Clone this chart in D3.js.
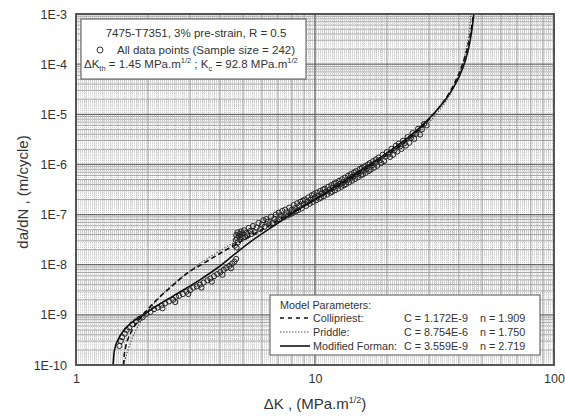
<!DOCTYPE html>
<html>
<head>
<meta charset="utf-8">
<script src="https://cdn.jsdelivr.net/npm/d3@7"></script>
<style>
  html, body { margin: 0; padding: 0; background: #fff; }
  svg { display: block; font-family: "Liberation Sans", Arial, sans-serif; }
</style>
</head>
<body>
<svg id="chart" width="565" height="417"></svg>
<script>
// ---- axis ticks ----
const xTickValues = [1, 10, 100];
const xTickLabels = ["1", "10", "100"];
const yTickValues = [1e-10, 1e-9, 1e-8, 1e-7, 1e-6, 1e-5, 1e-4, 1e-3];
const yTickLabels = ["1E-10", "1E-9", "1E-8", "1E-7", "1E-6", "1E-5", "1E-4", "1E-3"];

// ---- model curves: [ΔK (MPa·m^1/2), da/dN (m/cycle)] ----
const collipriest = [
  [1.58, 1.0e-10], [1.59, 1.5e-10], [1.61, 2.2e-10], [1.65, 3.3e-10], [1.71, 4.8e-10],
  [1.79, 6.8e-10], [1.88, 9.2e-10], [2.0, 1.3e-9], [2.2, 2.1e-9], [2.5, 3.6e-9],
  [2.9, 6.6e-9], [3.4, 1.05e-8], [4.1, 1.8e-8], [4.7, 2.6e-8], [5.6, 4.2e-8],
  [6.8, 7.0e-8], [8.2, 1.17e-7], [10, 2.0e-7], [12.5, 3.7e-7], [15, 6.3e-7],
  [18, 1.1e-6], [21, 1.8e-6], [25, 3.4e-6], [29, 6.6e-6], [33, 1.35e-5],
  [37, 3.0e-5], [40, 6.5e-5], [42.5, 1.45e-4], [44.3, 3.2e-4], [45.4, 6.2e-4], [46.0, 1.0e-3]
];
const priddle = [
  [1.585, 1.0e-10], [1.6, 1.2e-10], [1.7, 3.0e-10], [1.85, 6.8e-10], [2.0, 1.2e-9],
  [2.25, 2.3e-9], [2.5, 3.8e-9], [3.0, 7.6e-9], [3.5, 1.27e-8], [4.0, 1.9e-8],
  [5.0, 3.5e-8], [6.0, 5.7e-8], [8.0, 1.18e-7], [10, 2.06e-7], [13, 4.06e-7],
  [16, 7.17e-7], [20, 1.4e-6], [25, 3.08e-6], [30, 6.87e-6], [35, 1.72e-5],
  [38, 3.4e-5], [40, 6.0e-5], [42, 1.27e-4], [43, 2.08e-4], [44, 4.0e-4],
  [44.5, 6.1e-4], [44.95, 1.0e-3]
];
const modifiedForman = [
  [1.43, 1.0e-10], [1.44, 1.6e-10], [1.46, 2.3e-10], [1.5, 3.2e-10], [1.57, 4.6e-10],
  [1.66, 6.2e-10], [1.78, 8.0e-10], [1.92, 1.0e-9], [2.1, 1.35e-9], [2.4, 2.0e-9],
  [2.8, 3.1e-9], [3.3, 5.0e-9], [3.9, 8.6e-9], [4.7, 1.75e-8], [5.6, 3.3e-8],
  [6.8, 6.2e-8], [8.2, 1.12e-7], [10, 2.0e-7], [12.5, 3.9e-7], [15, 6.8e-7],
  [18, 1.2e-6], [21, 2.0e-6], [25, 3.7e-6], [29, 7.0e-6], [33, 1.35e-5],
  [37, 2.8e-5], [40, 5.5e-5], [42.5, 1.15e-4], [44.3, 2.5e-4], [45.5, 5.5e-4], [46.2, 1.0e-3]
];

// ---- measured crack growth data: [ΔK, da/dN] ----
const dataPoints = [
  [1.52, 2.4e-10], [1.54, 3.0e-10], [1.56, 3.6e-10], [1.6, 4.2e-10], [1.63, 5.0e-10],
  [1.67, 5.6e-10], [1.72, 6.5e-10], [1.78, 7.4e-10], [1.84, 8.3e-10], [1.9, 9.0e-10],
  [1.97, 1.05e-9], [2.05, 1.15e-9], [2.12, 1.3e-9], [2.2, 1.4e-9], [2.28, 1.55e-9],
  [2.36, 1.7e-9], [2.45, 1.85e-9], [2.55, 2.0e-9], [2.62, 2.3e-9], [2.7, 2.4e-9],
  [2.8, 2.6e-9], [2.9, 2.9e-9], [3.0, 3.1e-9], [3.1, 3.5e-9], [3.2, 3.7e-9],
  [3.3, 4.0e-9], [3.42, 4.4e-9], [3.55, 4.9e-9], [3.65, 5.3e-9], [3.78, 5.9e-9],
  [3.9, 6.5e-9], [4.02, 7.1e-9], [4.15, 7.9e-9], [4.25, 8.6e-9], [4.38, 9.5e-9],
  [4.5, 1.05e-8], [4.6, 1.15e-8], [4.68, 1.3e-8],
  [2.3, 1.35e-9], [2.6, 1.8e-9], [2.95, 2.6e-9], [3.35, 3.5e-9], [3.7, 4.6e-9],
  [4.1, 6.3e-9], [4.45, 8.5e-9],
  [4.62, 2.4e-8], [4.66, 3.1e-8], [4.68, 3.9e-8], [4.7, 2.2e-8], [4.72, 3.4e-8],
  [4.74, 4.4e-8], [4.76, 2.8e-8], [4.8, 3.7e-8], [4.83, 4.1e-8], [4.86, 3.2e-8],
  [4.9, 4.6e-8], [4.93, 3.6e-8], [4.97, 4.2e-8], [5.0, 3.5e-8],
  [5.05, 4.85e-8], [5.1, 3.55e-8], [5.16, 4.3e-8], [5.22, 3.8e-8], [5.28, 5.4e-8],
  [5.35, 4.7e-8], [5.42, 4.1e-8], [5.5, 5.9e-8], [5.6, 4.45e-8], [5.7, 5.5e-8],
  [5.8, 6.8e-8], [5.9, 5.1e-8],
  [6.0, 6.3e-8], [6.08, 7.7e-8], [6.15, 5.7e-8], [6.25, 8.1e-8], [6.35, 7.2e-8],
  [6.45, 6.3e-8], [6.55, 9.1e-8], [6.65, 6.8e-8], [6.75, 8.2e-8], [6.85, 1.0e-7], [6.95, 7.5e-8],
  [7.05, 1.09e-7], [7.12, 8.0e-8], [7.2, 9.7e-8], [7.3, 1.18e-7], [7.4, 8.8e-8],
  [7.5, 1.25e-7], [7.6, 1.1e-7], [7.7, 9.6e-8], [7.8, 1.38e-7], [7.9, 1.03e-7], [7.98, 1.24e-7],
  [8.06, 1.08e-7], [8.15, 1.55e-7], [8.24, 1.34e-7], [8.33, 1.17e-7], [8.42, 1.68e-7],
  [8.5, 1.23e-7], [8.6, 1.49e-7], [8.7, 1.8e-7], [8.8, 1.33e-7], [8.9, 1.9e-7], [8.98, 1.64e-7],
  [9.08, 2.0e-7], [9.18, 1.49e-7], [9.28, 1.81e-7], [9.38, 2.2e-7], [9.5, 1.64e-7],
  [9.6, 1.99e-7], [9.7, 2.42e-7], [9.8, 1.79e-7], [9.9, 2.55e-7], [9.98, 2.2e-7],
  [10.1, 1.92e-7], [10.2, 2.74e-7], [10.3, 2.37e-7], [10.4, 2.07e-7], [10.5, 2.94e-7],
  [10.6, 2.17e-7], [10.7, 2.62e-7], [10.8, 3.16e-7], [10.9, 2.33e-7], [11.0, 3.3e-7],
  [11.1, 2.86e-7], [11.25, 2.52e-7], [11.35, 3.58e-7], [11.5, 3.13e-7], [11.6, 2.72e-7],
  [11.7, 3.86e-7], [11.8, 2.85e-7], [11.9, 3.42e-7], [12.0, 4.13e-7],
  [12.12, 3.05e-7], [12.25, 4.34e-7], [12.38, 3.78e-7], [12.5, 3.3e-7], [12.62, 4.7e-7],
  [12.75, 4.08e-7], [12.88, 3.56e-7], [12.98, 5.05e-7],
  [13.1, 4.39e-7], [13.22, 3.83e-7], [13.35, 5.46e-7], [13.5, 4.06e-7], [13.62, 4.9e-7],
  [13.75, 5.94e-7], [13.88, 4.39e-7], [13.98, 5.28e-7],
  [14.12, 6.4e-7], [14.28, 4.73e-7], [14.42, 5.72e-7], [14.56, 6.93e-7], [14.7, 5.13e-7],
  [14.84, 7.29e-7], [14.98, 6.38e-7],
  [15.12, 5.57e-7], [15.28, 6.73e-7], [15.42, 8.14e-7], [15.58, 6.02e-7], [15.72, 8.56e-7],
  [15.86, 6.32e-7], [15.98, 7.58e-7],
  [16.15, 9.2e-7], [16.3, 6.8e-7], [16.48, 8.25e-7], [16.65, 1.0e-6], [16.8, 7.4e-7], [16.96, 1.06e-6],
  [17.12, 7.9e-7], [17.3, 9.55e-7], [17.48, 1.16e-6], [17.65, 8.6e-7], [17.82, 1.045e-6], [17.98, 1.26e-6],
  [18.2, 9.4e-7], [18.45, 1.37e-6], [18.7, 1.21e-6], [18.95, 1.07e-6], [19.2, 1.56e-6],
  [19.45, 1.17e-6], [19.7, 1.43e-6], [19.95, 1.76e-6],
  [20.3, 1.58e-6], [20.6, 1.41e-6], [20.9, 2.05e-6], [21.2, 1.55e-6], [21.5, 1.91e-6],
  [21.8, 2.36e-6], [22.1, 1.81e-6],
  [22.4, 2.6e-6], [22.7, 2.3e-6], [23.0, 2.04e-6], [23.35, 2.97e-6], [23.7, 2.65e-6], [24.0, 2.38e-6],
  [24.4, 3.52e-6], [24.8, 2.7e-6], [25.2, 3.37e-6], [25.6, 4.22e-6], [26.0, 3.23e-6],
  [26.5, 4.07e-6], [27.0, 5.13e-6], [27.5, 3.95e-6], [28.0, 5.0e-6], [28.6, 6.4e-6], [29.3, 6.0e-6]
];

// ---- legend text ----
const modelNames = ["Collipriest:", "Priddle:", "Modified Forman:"];
const modelC = ["C = 1.172E-9", "C = 8.754E-6", "C = 3.559E-9"];
const modelN = ["n = 1.909", "n = 1.750", "n = 2.719"];

// ---- layout ----
const W = 565, H = 417;
const P = { left: 76, right: 554, top: 14, bottom: 365 };
const svg = d3.select("#chart");
const x = d3.scaleLog().domain([1, 100]).range([P.left, P.right]);
const y = d3.scaleLog().domain([1e-10, 1e-3]).range([P.bottom, P.top]);

svg.append("rect").attr("width", W).attr("height", H).attr("fill", "#fff");

svg.append("defs").append("clipPath").attr("id", "plotClip")
  .append("rect").attr("x", P.left).attr("y", P.top)
  .attr("width", P.right - P.left).attr("height", P.bottom - P.top);

// ---- log-paper grid ----
const fineMult = [1.1, 1.2, 1.3, 1.4, 1.5, 1.6, 1.7, 1.8, 1.9,
  2.2, 2.4, 2.6, 2.8, 3.2, 3.4, 3.6, 3.8, 4.2, 4.4, 4.6, 4.8,
  5.5, 6.5, 7.5, 8.5, 9.5];
const minorMult = [2, 3, 4, 5, 6, 7, 8, 9];
function gridValues(e0, e1, mults) {
  const out = [];
  for (let e = e0; e < e1; e++) mults.forEach(m => out.push(m * Math.pow(10, e)));
  return out;
}
const grid = svg.append("g");
function vLines(vals, stroke, w, dash) {
  grid.append("g").selectAll("line").data(vals).join("line")
    .attr("x1", d => x(d)).attr("x2", d => x(d))
    .attr("y1", P.top).attr("y2", P.bottom)
    .attr("stroke", stroke).attr("stroke-width", w)
    .attr("stroke-dasharray", dash || null);
}
function hLines(vals, stroke, w, dash) {
  grid.append("g").selectAll("line").data(vals).join("line")
    .attr("y1", d => y(d)).attr("y2", d => y(d))
    .attr("x1", P.left).attr("x2", P.right)
    .attr("stroke", stroke).attr("stroke-width", w)
    .attr("stroke-dasharray", dash || null);
}
vLines(gridValues(0, 2, fineMult), "#b0b0b0", 0.7, "1,1");
hLines(gridValues(-10, -3, fineMult), "#b0b0b0", 0.7, "1,1");
vLines(gridValues(0, 2, minorMult), "#9a9a9a", 0.9);
hLines(gridValues(-10, -3, minorMult), "#9a9a9a", 0.9);
vLines([10], "#666", 1.3);
hLines(yTickValues.slice(1, -1), "#666", 1.3);

// ---- data points ----
const plotG = svg.append("g").attr("clip-path", "url(#plotClip)");
plotG.append("g").selectAll("circle").data(dataPoints).join("circle")
  .attr("cx", d => x(d[0])).attr("cy", d => y(d[1])).attr("r", 2.6)
  .attr("fill", "none").attr("stroke", "#222").attr("stroke-width", 1);

// ---- model curves ----
const line = d3.line().x(d => x(d[0])).y(d => y(d[1])).curve(d3.curveMonotoneX);
const styles = [
  { data: priddle, stroke: "#555", width: 1.1, dash: "1.5,1.5" },
  { data: collipriest, stroke: "#111", width: 1.6, dash: "5,3" },
  { data: modifiedForman, stroke: "#111", width: 1.6, dash: null }
];
styles.forEach(s => {
  plotG.append("path").attr("d", line(s.data))
    .attr("fill", "none").attr("stroke", s.stroke)
    .attr("stroke-width", s.width).attr("stroke-dasharray", s.dash);
});

// ---- frame ----
svg.append("rect").attr("x", P.left).attr("y", P.top)
  .attr("width", P.right - P.left).attr("height", P.bottom - P.top)
  .attr("fill", "none").attr("stroke", "#444").attr("stroke-width", 1.8);

// ---- axes ----
const yAxis = svg.append("g").attr("transform", `translate(${P.left},0)`)
  .call(d3.axisLeft(y).tickValues(yTickValues).tickFormat((d, i) => yTickLabels[i])
    .tickSize(0).tickPadding(9));
const xAxis = svg.append("g").attr("transform", `translate(0,${P.bottom})`)
  .call(d3.axisBottom(x).tickValues(xTickValues).tickFormat((d, i) => xTickLabels[i])
    .tickSize(0).tickPadding(9));
[yAxis, xAxis].forEach(a => {
  a.select(".domain").remove();
  a.selectAll("text").attr("font-family", "Liberation Sans, Arial, sans-serif")
    .attr("font-size", 12.5).attr("fill", "#333");
});

// axis titles
const xt = svg.append("text").attr("x", 315).attr("y", 409)
  .attr("text-anchor", "middle").attr("font-size", 15).attr("fill", "#333");
xt.append("tspan").text("\u0394K , (MPa.m");
xt.append("tspan").attr("dy", -6).attr("font-size", 9).text("1/2");
xt.append("tspan").attr("dy", 6).text(")");

svg.append("text").attr("transform", "translate(28,192) rotate(-90)")
  .attr("text-anchor", "middle").attr("font-size", 15).attr("fill", "#333")
  .text("da/dN , (m/cycle)");

// ---- upper legend ----
svg.append("rect").attr("x", 81).attr("y", 19).attr("width", 225).attr("height", 60)
  .attr("fill", "#fff").attr("stroke", "#555").attr("stroke-width", 1);
const lg1 = svg.append("g").attr("font-size", 11.5).attr("fill", "#333");
lg1.append("text").attr("x", 196).attr("y", 37).attr("text-anchor", "middle")
  .text("7475-T7351, 3% pre-strain, R = 0.5");
lg1.append("circle").attr("cx", 100).attr("cy", 50).attr("r", 3)
  .attr("fill", "#fff").attr("stroke", "#333").attr("stroke-width", 1);
lg1.append("text").attr("x", 117).attr("y", 54).text("All data points (Sample size = 242)");
const l3 = lg1.append("text").attr("x", 84).attr("y", 68);
l3.append("tspan").text("\u0394K");
l3.append("tspan").attr("dy", 3).attr("font-size", 7.5).text("th");
l3.append("tspan").attr("dy", -3).text(" = 1.45 MPa.m");
l3.append("tspan").attr("dy", -5).attr("font-size", 7.5).text("1/2");
l3.append("tspan").attr("dy", 5).text(" ; K");
l3.append("tspan").attr("dy", 3).attr("font-size", 7.5).text("c");
l3.append("tspan").attr("dy", -3).text(" = 92.8 MPa.m");
l3.append("tspan").attr("dy", -5).attr("font-size", 7.5).text("1/2");

// ---- model legend ----
svg.append("rect").attr("x", 270).attr("y", 295).attr("width", 270).attr("height", 60)
  .attr("fill", "#fff").attr("stroke", "#555").attr("stroke-width", 1);
const lg2 = svg.append("g").attr("font-size", 10.8).attr("fill", "#333");
lg2.append("text").attr("x", 280).attr("y", 309).text("Model Parameters:");
const legendStyles = [styles[1], styles[0], styles[2]];
modelNames.forEach((name, i) => {
  const cy = 318 + i * 14;
  const s = legendStyles[i];
  lg2.append("line").attr("x1", 280).attr("x2", 310).attr("y1", cy).attr("y2", cy)
    .attr("stroke", s.stroke).attr("stroke-width", s.width)
    .attr("stroke-dasharray", s.dash === "5,3" ? "4,4" : s.dash);
  const t = lg2.append("text").attr("x", 313).attr("y", cy + 4).text(name);
  const end = 313 + t.node().getComputedTextLength();
  lg2.append("text").attr("x", Math.max(404, end + 4)).attr("y", cy + 4).text(modelC[i]);
  lg2.append("text").attr("x", 480).attr("y", cy + 4).text(modelN[i]);
});
</script>
</body>
</html>
